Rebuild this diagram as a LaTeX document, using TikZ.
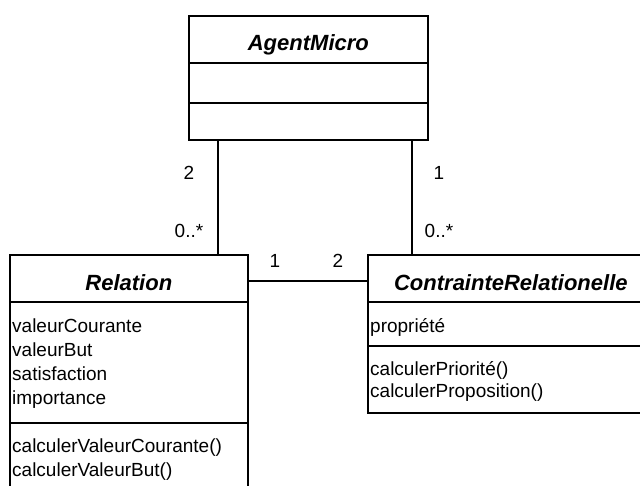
\documentclass[tikz,border=0pt]{standalone}
\usepackage{fontspec}
\setmainfont{Liberation Sans}
\begin{document}
\begin{tikzpicture}[x=1pt,y=-1pt,
  box/.style={draw, line width=1.7pt, inner sep=0pt, anchor=north west},
  sep/.style={line width=1.2pt},
  conn/.style={line width=1.7pt},
  ttl/.style={font=\fontsize{22}{26}\selectfont\bfseries\itshape, anchor=base, inner sep=0pt},
  txt/.style={font=\fontsize{19}{23.5}\selectfont, anchor=base west, inner sep=0pt},
  mult/.style={font=\fontsize{19}{23}\selectfont, anchor=base, inner sep=0pt}]
\useasboundingbox (0,0) rectangle (640,485);
% boxes
\node[box, minimum width=239pt, minimum height=124pt] (agent) at (188,15) {};
\node[box, minimum width=238pt, minimum height=250pt] (rel) at (9,254) {};
\node[box, minimum width=286pt, minimum height=158pt] (cont) at (367,254) {};
% separators
\draw[sep] (agent.west |- 0,63) -- (agent.east |- 0,63);
\draw[sep] (agent.west |- 0,103) -- (agent.east |- 0,103);
\draw[sep] (rel.west |- 0,302) -- (rel.east |- 0,302);
\draw[sep] (rel.west |- 0,423) -- (rel.east |- 0,423);
\draw[sep] (cont.west |- 0,302) -- (cont.east |- 0,302);
\draw[sep] (cont.west |- 0,346) -- (cont.east |- 0,346);
% titles
\node[ttl] (agentT) at (agent.north |- 0,50) {AgentMicro};
\node[ttl] (relT) at (rel.north |- 0,290) {Relation};
\node[ttl] (contT) at (cont.north |- 0,290) {ContrainteRelationelle};
% attributes and methods
\node[txt] (r1) at (12,332) {valeurCourante};
\node[txt] (r2) at (12,356) {valeurBut};
\node[txt] (r3) at (12,380) {satisfaction};
\node[txt] (r4) at (12,404) {importance};
\node[txt] (r5) at (12,452) {calculerValeurCourante()};
\node[txt] (r6) at (12,476) {calculerValeurBut()};
\node[txt] (c1) at (370,332) {propriété};
\node[txt] (c2) at (370,375) {calculerPriorité()};
\node[txt] (c3) at (370,397) {calculerProposition()};
% connectors
\draw[conn] (agent.south -| 218,0) -- (rel.north -| 218,0);
\draw[conn] (agent.south -| 412,0) -- (cont.north -| 412,0);
\draw[conn] (rel.east |- 0,281) -- (cont.west |- 0,281);
% multiplicities
\node[mult] (m1) at (189,179) {2};
\node[mult] (m2) at (189,237) {0..*};
\node[mult] (m3) at (439,179) {1};
\node[mult] (m4) at (439,237) {0..*};
\node[mult] (m5) at (275,267) {1};
\node[mult] (m6) at (338,267) {2};
\end{tikzpicture}
\end{document}
